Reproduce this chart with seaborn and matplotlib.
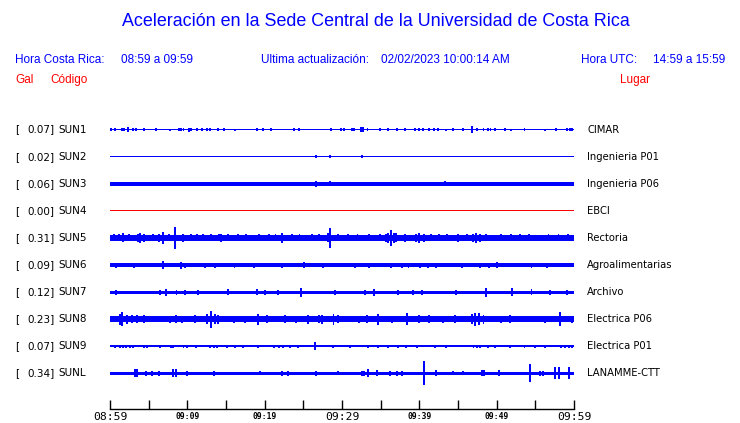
import matplotlib
matplotlib.use("Agg")
import matplotlib.pyplot as plt
import matplotlib.transforms as mtransforms
import seaborn as sns

sns.set_style("white")
plt.rcParams["font.family"] = ["DejaVu Sans"]
plt.rcParams["text.color"] = "black"
plt.rcParams["xtick.color"] = "black"

# station codes, peak acceleration (Gal) and place names
codes = ["SUN1", "SUN2", "SUN3", "SUN4", "SUN5", "SUN6", "SUN7", "SUN8", "SUN9", "SUNL"]
peaks = [0.07, 0.02, 0.06, 0.00, 0.31, 0.09, 0.12, 0.23, 0.07, 0.34]
places = ["CIMAR", "Ingenieria P01", "Ingenieria P06", "EBCI", "Rectoria",
          "Agroalimentarias", "Archivo", "Electrica P06", "Electrica P01", "LANAMME-CTT"]

# background noise level of each trace (half width, px)
noise = [0.9, 0.8, 1.8, 0.6, 3.0, 1.6, 1.6, 3.0, 0.9, 1.6]

# bursts: minute after 08:59 and half amplitude (px)
sun1_t = [0.1, 0.6, 1.5, 1.8, 2.3, 3.0, 3.4, 4.4, 6.0, 7.7, 8.9, 9.2, 9.5, 10.2, 10.5, 11.2, 11.9,
          12.6, 12.9, 14.0, 14.7, 16.2, 19.0, 19.8, 20.8, 23.8, 24.4, 26.6, 28.6, 29.9, 30.2, 31.3,
          31.6, 32.4, 32.7, 33.3, 34.9, 36.0, 37.1, 38.1, 39.4, 40.0, 40.5, 41.3, 41.9, 42.4, 43.4,
          44.4, 45.6, 46.8, 47.4, 48.3, 48.9, 49.2, 49.8, 51.1, 51.9, 53.6, 56.3, 57.7, 59.1, 59.5, 59.8]
sun1_a = [1.5, 1.2, 1.5, 1.5, 2.5, 1.5, 1.5, 1.5, 1.5, 1.0, 1.8, 1.8, 1.8, 2.0, 1.5, 1.2, 1.2,
          1.8, 1.8, 1.5, 1.2, 1.0, 1.2, 1.5, 1.5, 1.5, 1.2, 0.8, 1.8, 1.5, 1.5, 1.2,
          1.2, 2.5, 2.8, 1.5, 1.5, 1.2, 1.5, 1.8, 1.2, 1.2, 1.2, 1.2, 1.2, 1.2, 1.0,
          1.2, 1.2, 3.5, 1.2, 1.2, 1.8, 1.8, 1.2, 1.5, 1.0, 1.8, 1.0, 1.8, 1.8, 1.8, 1.8]

sun2_t = [26.6, 28.5, 32.6]
sun2_a = [1.2, 1.2, 1.8]

sun3_t = [26.6, 28.5, 43.3]
sun3_a = [3.0, 2.5, 2.3]

sun4_t = []
sun4_a = []

sun5_t = [0.5, 1.2, 1.7, 2.5, 3.6, 3.9, 4.4, 5.5, 6.3, 6.8, 7.6, 8.4, 9.4, 10.5, 11.2, 12.0,
          13.0, 14.1, 14.4, 15.2, 16.5, 17.6, 19.3, 20.5, 21.4, 22.2, 23.5, 24.5, 26.1, 27.0,
          28.2, 28.5, 29.5, 30.8, 32.0, 33.5, 34.9, 35.7, 36.0, 36.3, 36.7, 37.0, 38.2, 39.6,
          39.9, 40.6, 41.5, 42.5, 43.6, 45.0, 46.2, 46.9, 47.3, 47.8, 48.6, 49.4, 50.5, 51.8,
          53.0, 54.2, 55.8, 56.7, 58.0, 59.2]
sun5_a = [3.5, 3.5, 4.5, 3.5, 4.0, 5.0, 4.0, 3.5, 4.0, 6.0, 3.5, 11.0, 4.0, 3.5, 3.5, 3.5,
          3.5, 3.5, 4.0, 3.5, 3.5, 3.5, 3.5, 3.5, 3.5, 5.0, 3.5, 3.5, 3.5, 3.5,
          4.5, 10.0, 3.5, 3.5, 3.5, 3.5, 3.5, 4.0, 5.0, 8.0, 5.0, 4.5, 4.0, 4.0,
          5.0, 4.0, 3.5, 3.5, 3.5, 4.0, 3.5, 4.0, 5.0, 4.0, 3.5, 3.0, 3.5, 3.5,
          3.5, 3.5, 3.0, 3.5, 3.5, 3.5]

sun6_t = [0.8, 3.1, 6.8, 9.2, 9.7, 12.3, 13.6, 16.1, 18.6, 22.2, 25.1, 27.6, 31.7, 33.5, 36.3,
          37.8, 38.6, 40.1, 41.1, 42.2, 45.5, 47.8, 49.0, 50.0, 54.5, 56.5]
sun6_a = [2.5, 2.5, 4.0, 3.5, 2.5, 2.5, 2.5, 2.5, 2.5, 2.5, 3.0, 2.5, 2.5, 2.5, 2.5,
          2.5, 2.5, 2.5, 2.5, 2.5, 2.5, 2.5, 2.5, 3.0, 2.5, 2.5]

sun7_t = [0.8, 6.5, 7.3, 8.6, 9.7, 11.4, 15.3, 19.0, 20.1, 21.7, 24.7, 29.1, 33.0, 34.1, 37.3,
          39.2, 40.3, 44.8, 48.6, 52.0, 54.5, 56.9, 59.1]
sun7_a = [2.5, 2.5, 3.5, 2.5, 2.5, 2.5, 3.0, 3.0, 2.5, 2.5, 4.5, 2.5, 2.5, 3.5, 2.5,
          2.5, 2.5, 2.5, 4.5, 4.0, 3.0, 2.5, 2.5]

sun8_t = [1.3, 1.6, 2.2, 2.8, 3.5, 4.4, 7.8, 8.5, 9.3, 11.0, 12.6, 13.1, 13.6, 14.0, 16.0,
          17.5, 19.1, 20.3, 22.6, 24.0, 25.6, 27.0, 27.4, 28.9, 29.5, 32.2, 33.2, 34.7, 36.5,
          38.4, 39.9, 41.2, 43.0, 44.6, 46.8, 47.2, 47.7, 48.3, 50.5, 51.7, 53.6, 56.3, 58.2, 59.7]
sun8_a = [5.5, 7.0, 4.5, 4.0, 4.0, 4.0, 3.5, 4.0, 3.5, 4.0, 5.0, 8.5, 5.0, 4.5, 3.5,
          3.5, 5.5, 4.0, 4.0, 3.5, 4.5, 4.0, 4.5, 5.5, 4.0, 3.5, 4.0, 5.5, 3.5,
          6.0, 4.0, 4.0, 3.5, 4.0, 5.0, 6.5, 6.0, 4.5, 3.5, 4.0, 3.0, 3.5, 7.0, 3.5]

sun9_t = [0.6, 1.3, 1.7, 2.1, 2.6, 3.0, 4.4, 4.8, 6.5, 7.9, 8.2, 9.5, 10.0, 11.1, 12.9, 13.4,
          13.8, 15.1, 16.2, 17.2, 19.1, 21.2, 21.8, 22.4, 23.3, 24.3, 26.5, 28.8, 31.0, 33.4,
          34.7, 36.0, 37.3, 38.3, 39.7, 42.0, 43.5, 47.0, 47.5, 47.9, 48.9, 49.8, 51.7, 53.6,
          55.0, 56.3, 58.3, 58.8, 59.3, 59.7]
sun9_a = [1.5, 1.5, 1.5, 1.5, 1.5, 1.2, 1.5, 1.5, 1.2, 1.5, 1.5, 1.5, 1.2, 1.5, 1.5, 1.5,
          1.5, 1.2, 1.2, 1.2, 1.2, 1.5, 1.5, 1.5, 1.2, 1.2, 4.0, 1.8, 1.2, 1.2,
          1.5, 1.2, 1.2, 1.2, 1.2, 1.2, 1.2, 1.5, 1.5, 1.5, 1.5, 1.2, 1.2, 1.2,
          1.2, 1.5, 1.5, 1.5, 1.2, 1.2]

sunl_t = [3.2, 3.5, 4.6, 5.4, 6.3, 8.2, 8.5, 10.0, 13.4, 19.4, 22.2, 23.0, 26.6, 29.5, 32.6,
          32.9, 33.4, 34.5, 36.2, 37.1, 37.7, 40.6, 42.2, 44.4, 45.7, 48.1, 48.4, 50.3, 54.3,
          55.6, 56.0, 57.5, 58.1, 59.3]
sunl_a = [4.0, 4.0, 2.5, 2.5, 2.5, 4.0, 4.0, 2.5, 2.5, 2.0, 2.5, 2.5, 2.5, 2.0, 2.5,
          2.5, 4.0, 3.0, 2.5, 2.5, 2.5, 12.0, 3.0, 2.0, 2.0, 3.0, 3.0, 3.0, 9.0,
          2.5, 2.5, 6.0, 6.0, 6.0]

burst_t = [sun1_t, sun2_t, sun3_t, sun4_t, sun5_t, sun6_t, sun7_t, sun8_t, sun9_t, sunl_t]
burst_a = [sun1_a, sun2_a, sun3_a, sun4_a, sun5_a, sun6_a, sun7_a, sun8_a, sun9_a, sunl_a]

tick_min = list(range(0, 61, 5))
tick_txt = ["08:59", "", "09:09", "", "09:19", "", "09:29", "", "09:39", "", "09:49", "", "09:59"]

W, H = 740, 423
ROW = 27.1  # px between traces

fig = plt.figure(figsize=(W / 100, H / 100), dpi=100)
ax = fig.add_axes([110 / W, 1 - 409 / H, 464 / W, 294 / H])
ax.set_xlim(0, 60)
ax.set_ylim(279.5 / ROW, -14.5 / ROW)

for i in range(len(codes)):
    col = "red" if peaks[i] == 0 else "blue"
    b = noise[i] / ROW
    ax.barh(i, 60, height=2 * b, left=0, color=col, linewidth=0, align="center",
            antialiased=False)
    amps = [a / ROW for a in burst_a[i]]
    if amps:
        ax.bar(burst_t[i], [2 * a for a in amps], bottom=[i - a for a in amps],
               width=0.25, color=col, linewidth=0, antialiased=False)

sns.despine(ax=ax, left=True, top=True, right=True)
ax.spines["bottom"].set_color("black")
ax.spines["bottom"].set_linewidth(1)
ax.set_yticks([])
ax.set_xticks(tick_min)
ax.set_xticklabels(tick_txt)
ax.tick_params(axis="x", direction="in", length=6.5, width=1, color="black", pad=2,
               bottom=True, labelcolor="black")
for lab in ax.get_xticklabels():
    t = lab.get_text()
    lab.set_fontfamily("DejaVu Sans Mono")
    if t in ("08:59", "09:29", "09:59"):
        lab.set_fontsize(8.2)
    else:
        lab.set_fontsize(5.8)
        lab.set_fontweight("bold")

# station labels on both sides
tr = mtransforms.blended_transform_factory(fig.transFigure, ax.transData)
for i in range(len(codes)):
    ax.text(15 / W, i, "[", transform=tr, ha="left", va="center", fontsize=7.5, clip_on=False)
    ax.text(54.5 / W, i, f"{peaks[i]:.2f}]", transform=tr, ha="right", va="center",
            fontsize=7.5, clip_on=False)
    ax.text(58 / W, i, codes[i], transform=tr, ha="left", va="center", fontsize=7.5,
            clip_on=False)
    ax.text(587 / W, i, places[i], transform=tr, ha="left", va="center", fontsize=7.2,
            clip_on=False)

# header
hf = "Liberation Sans"
fig.text(376 / W, 1 - 22 / H, "Aceleración en la Sede Central de la Universidad de Costa Rica",
         ha="center", va="center", color="blue", fontsize=12.85, family=hf)
fig.text(15 / W, 1 - 60 / H, "Hora Costa Rica:", color="blue", fontsize=8.5, family=hf, va="center")
fig.text(121 / W, 1 - 60 / H, "08:59 a 09:59", color="blue", fontsize=8.5, family=hf, va="center")
fig.text(261 / W, 1 - 60 / H, "Ultima actualización:", color="blue", fontsize=8.5, family=hf,
         va="center")
fig.text(381 / W, 1 - 60 / H, "02/02/2023 10:00:14 AM", color="blue", fontsize=8.5, family=hf,
         va="center")
fig.text(581 / W, 1 - 60 / H, "Hora UTC:", color="blue", fontsize=8.5, family=hf, va="center")
fig.text(725 / W, 1 - 60 / H, "14:59 a 15:59", color="blue", fontsize=8.5, family=hf,
         va="center", ha="right")
fig.text(15 / W, 1 - 80 / H, "Gal", color="red", fontsize=8.5, family=hf, va="center")
fig.text(50 / W, 1 - 80 / H, "Código", color="red", fontsize=8.5, family=hf, va="center")
fig.text(650 / W, 1 - 80 / H, "Lugar", color="red", fontsize=8.5, family=hf, va="center",
         ha="right")

fig.savefig("out.png", dpi=100)
